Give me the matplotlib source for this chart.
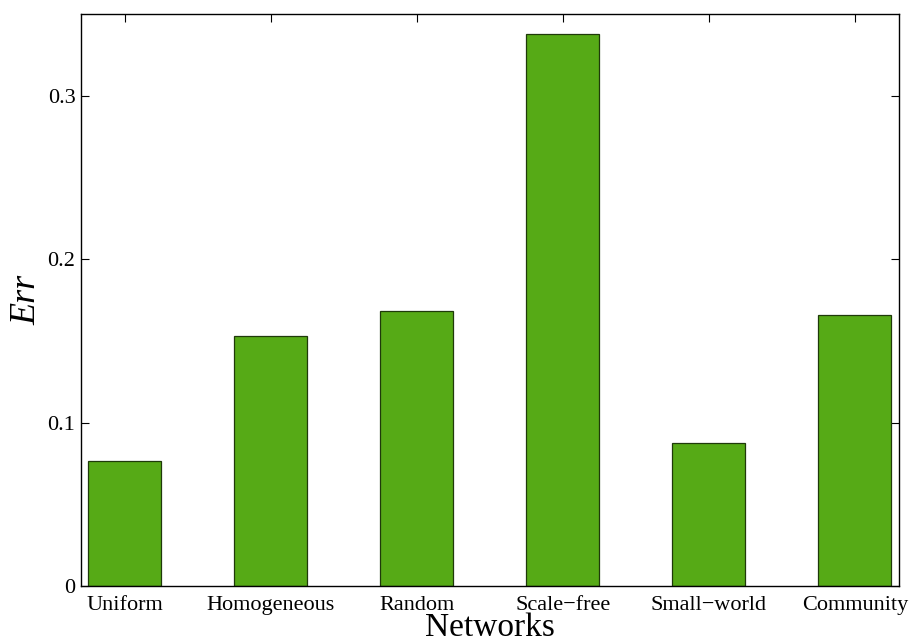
import numpy as np
import matplotlib.pyplot as plt

plt.rcParams['font.family'] = 'Liberation Serif'

networks = ["Uniform", "Homogeneous", "Random", "Scale\u2212free", "Small\u2212world", "Community"]
err = [0.0762, 0.1530, 0.1682, 0.3380, 0.0874, 0.1657]

fig = plt.figure(figsize=(9.1, 6.43), dpi=100)
ax = fig.add_axes([81 / 910, 57 / 643, 818 / 910, 572 / 643])

x = np.arange(1, len(networks) + 1)
ax.bar(x, err, width=0.5, color='#56aa16', edgecolor='#1f3a0a', linewidth=0.9, zorder=2)

ax.set_xlim(0.699, 6.302)
ax.set_ylim(0, 0.35)
ax.set_xticks(x)
ax.set_xticklabels(networks)
ax.set_yticks([0, 0.1, 0.2, 0.3])
ax.set_yticklabels(['0', '0.1', '0.2', '0.3'])
ax.tick_params(direction='in', top=True, right=True, length=6, width=0.8,
               labelsize=16, pad=4)
ax.tick_params(axis='x', pad=7)
for s in ax.spines.values():
    s.set_linewidth(1.0)

ax.set_xlabel('Networks', fontsize=24)
ax.xaxis.set_label_coords(0.5, -0.087)
ax.xaxis.label.set_va('baseline')
ax.set_ylabel('Err', fontsize=26, style='italic', labelpad=3)

fig.savefig('out.png', dpi=100)
